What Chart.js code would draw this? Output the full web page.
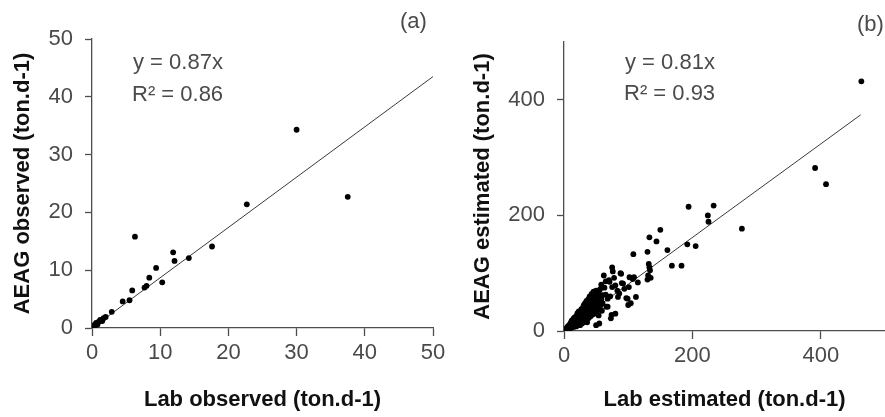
<!DOCTYPE html>
<html>
<head>
<meta charset="utf-8">
<script src="https://cdn.jsdelivr.net/npm/chart.js@4"></script>
<style>
  html, body { margin: 0; padding: 0; background: #fff; overflow: hidden; }
  body { width: 885px; height: 417px; position: relative; }
  #wrapA { position: absolute; left: 0; top: 0; width: 460px; height: 417px; }
  #wrapB { position: absolute; left: 440px; top: 0; width: 448px; height: 417px; }
</style>
</head>
<body>
<div id="wrapA"><canvas id="chartA"></canvas></div>
<div id="wrapB"><canvas id="chartB"></canvas></div>
<script>
// ========== DATA ==========
// (a) observed loads
const obsLab  = [30.0, 37.5, 22.7, 6.3, 17.6, 11.9, 12.1, 14.2, 9.4, 8.4, 10.3, 8.0, 7.7, 5.9, 5.5, 4.5, 2.9, 1.7, 1.2, 1.0, 0.6, 0.3, 0.1, 0.8, 1.5, 2.0, 0.4];
const obsAeag = [34.3, 22.7, 21.4, 15.8, 14.1, 13.1, 11.6, 12.1, 10.4, 8.7, 7.9, 7.3, 7.0, 6.5, 4.8, 4.6, 2.8, 1.7, 1.4, 1.1, 0.9, 0.5, 0.2, 0.6, 1.2, 1.9, 0.3];
const trendA  = [[0, 0], [50, 43.5]];

// (b) estimated loads
const estLab = [
  1, 2, 2, 3, 3, 4, 4, 5, 5, 6, 6, 7, 7, 8, 8, 9, 9, 10, 10, 10, 1, 3, 5, 6, 8,
  11, 11, 12, 12, 12, 13, 13, 14, 14, 15, 15, 15, 16, 16, 17, 17, 17, 18, 18, 19, 19, 20, 20, 20, 20,
  21, 21, 22, 22, 22, 23, 23, 24, 24, 25, 25, 25, 26, 26, 27, 27, 28, 28, 28, 29, 29, 30, 30, 30, 30,
  31, 31, 32, 32, 33, 33, 34, 34, 35, 35, 36, 36, 37, 37, 38, 38, 39, 39, 40, 40, 41, 41, 42, 42, 43, 43, 44, 44, 45, 45,
  46, 46, 47, 47, 48, 48, 49, 50, 50, 51, 52, 52, 53, 54, 54, 55, 56, 56, 57, 58, 58, 59, 60, 60, 55, 50,
  62, 63, 65, 65, 66, 68, 68, 70, 71, 72, 73, 74, 75, 75, 76, 78, 80, 80, 83, 84, 86, 88, 89, 90, 92, 94, 97, 99, 100, 101, 102, 104, 107, 109, 112, 115,
  108, 130, 130, 131, 132, 133, 134, 135, 133, 144, 150, 161, 168, 183, 192, 194, 205, 224, 225, 233, 277, 391, 408, 463
];
const estAeag = [
  1, 1, 3, 2, 4, 2, 5, 3, 6, 4, 8, 5, 9, 4, 7, 6, 11, 5, 8, 13, 2, 1, 1, 2, 2,
  9, 15, 6, 11, 18, 8, 14, 10, 19, 7, 12, 22, 11, 16, 9, 14, 24, 12, 19, 8, 16, 11, 14, 21, 27,
  17, 31, 12, 20, 25, 15, 34, 18, 22, 10, 26, 30, 16, 20, 24, 38, 13, 28, 33, 19, 36, 22, 27, 42, 15,
  31, 45, 18, 25, 35, 48, 21, 29, 39, 52, 26, 15, 33, 44, 22, 55, 30, 41, 36, 60, 25, 47, 32, 38, 50, 64, 28, 42, 35, 56,
  46, 68, 30, 40, 52, 37, 62, 44, 70, 33, 48, 58, 40, 65, 27, 50, 72, 38, 45, 55, 80, 35, 48, 62, 13, 10,
  96, 75, 63, 86, 42, 42, 56, 88, 85, 60, 22, 28, 110, 76, 103, 92, 30, 79, 70, 59, 65, 100, 99, 83, 82, 73, 57, 56, 45, 76, 93, 48, 90, 93, 59, 84,
  133, 137, 89, 96, 116, 110, 105, 92, 162, 155, 175, 140, 113, 113, 150, 215, 147, 200, 189, 217, 177, 282, 254, 432
];
const trendB = [[0, 0], [462, 374]];

// ========== STYLE ==========
const FONT = '"Liberation Sans", Arial, sans-serif';
const TICK_COLOR = '#4a4a4a';
const AXIS_COLOR = '#4d4d4d';

const notes = {
  id: 'notes',
  afterDraw(chart, args, opts) {
    const ctx = chart.ctx;
    ctx.save();
    ctx.fillStyle = '#4a4a4a';
    ctx.textBaseline = 'middle';
    ctx.font = '22px ' + FONT;
    opts.items.forEach(t => ctx.fillText(t.text, t.x, t.y));
    ctx.restore();
  }
};

function toPoints(xs, ys) {
  return xs.map((x, i) => ({ x: x, y: ys[i] }));
}

function makeChart(id, cfg) {
  const keepTicks = cfg.step200
    ? (s) => { s.ticks = s.ticks.filter(t => t.value % 200 === 0); }
    : undefined;
  return new Chart(document.getElementById(id), {
    type: 'scatter',
    data: {
      datasets: [
        {
          data: cfg.points,
          backgroundColor: '#000',
          borderWidth: 0,
          pointRadius: 2.9,
          pointHoverRadius: 2.9
        },
        {
          type: 'line',
          data: cfg.trend.map(p => ({ x: p[0], y: p[1] })),
          borderColor: '#3a3a3a',
          borderWidth: 1,
          pointRadius: 0,
          fill: false
        }
      ]
    },
    options: {
      responsive: true,
      maintainAspectRatio: false,
      animation: false,
      layout: { padding: cfg.padding },
      plugins: {
        legend: { display: false },
        tooltip: { enabled: false },
        notes: { items: cfg.notes }
      },
      scales: {
        x: {
          type: 'linear',
          min: 0, max: cfg.xMax,
          afterFit: s => { s.height = cfg.xHeight; },
          afterBuildTicks: keepTicks,
          border: { display: true, color: AXIS_COLOR, width: 1.3 },
          grid: { drawOnChartArea: false, drawTicks: true, tickLength: 8, tickColor: AXIS_COLOR, tickWidth: 1.3 },
          ticks: { stepSize: cfg.step, color: TICK_COLOR, font: { family: FONT, size: 22 }, padding: 4, maxRotation: 0 },
          title: { display: true, text: cfg.xTitle, color: '#111', font: { family: FONT, size: 22, weight: 'bold' }, padding: { top: 0, bottom: 4 } }
        },
        y: {
          type: 'linear',
          min: 0, max: cfg.yMax,
          afterFit: s => { s.width = cfg.yWidth; },
          afterBuildTicks: keepTicks,
          border: { display: true, color: AXIS_COLOR, width: 1.3 },
          grid: { drawOnChartArea: false, drawTicks: true, tickLength: 7, tickColor: AXIS_COLOR, tickWidth: 1.3 },
          ticks: { stepSize: cfg.step, color: TICK_COLOR, font: { family: FONT, size: 22 }, padding: 12 },
          title: { display: true, text: cfg.yTitle, color: '#111', font: { family: FONT, size: 22, weight: 'bold' }, padding: { top: cfg.yTitlePad, bottom: 0 } }
        }
      }
    },
    plugins: [notes]
  });
}

document.addEventListener('DOMContentLoaded', () => {
  makeChart('chartA', {
    points: toPoints(obsLab, obsAeag),
    trend: trendA,
    xMax: 50, yMax: 50, step: 10, step200: false,
    padding: { top: 39, right: 27, left: 0, bottom: 0 },
    xHeight: 89, yWidth: 92, yTitlePad: 10,
    xTitle: 'Lab observed (ton.d-1)',
    yTitle: 'AEAG observed (ton.d-1)',
    notes: [
      { text: 'y = 0.87x', x: 133, y: 63 },
      { text: 'R\u00b2 = 0.86', x: 132, y: 95 },
      { text: '(a)', x: 400, y: 22 }
    ]
  });

  makeChart('chartB', {
    points: toPoints(estLab, estAeag),
    trend: trendB,
    xMax: 500, yMax: 500, step: 200, step200: true,
    padding: { top: 42, right: 0, left: 0, bottom: 0 },
    xHeight: 86, yWidth: 124, yTitlePad: 30,
    xTitle: 'Lab estimated (ton.d-1)',
    yTitle: 'AEAG estimated (ton.d-1)',
    notes: [
      { text: 'y = 0.81x', x: 185, y: 63 },
      { text: 'R\u00b2 = 0.93', x: 184, y: 94 },
      { text: '(b)', x: 417, y: 25 }
    ]
  });
});
</script>
</body>
</html>
